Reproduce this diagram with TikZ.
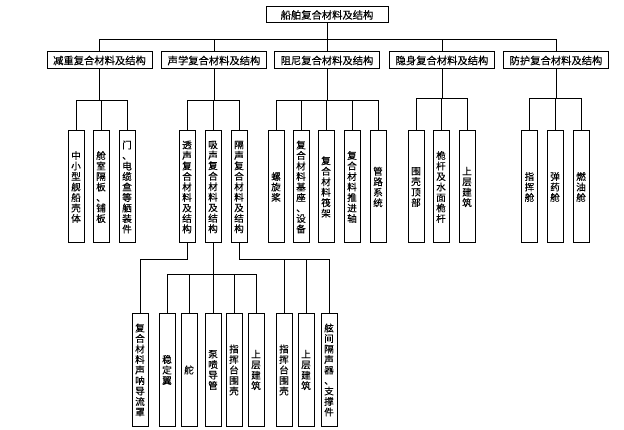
\documentclass[tikz,border=0pt]{standalone}
\usepackage{fontspec}
\newfontfamily\cjk[FakeBold=0.3]{Noto Sans CJK SC}
\begin{document}
\begin{tikzpicture}[x=1pt,y=-1pt,
  hbox/.style={draw, line width=1pt, inner sep=0pt, minimum height=17pt, minimum width=105pt,
    font=\cjk\fontsize{10.3}{12}\selectfont},
  vbox/.style={draw, line width=1pt, inner sep=0pt, minimum width=16pt, minimum height=112pt,
    align=center, font=\cjk\fontsize{9.6}{10.5}\selectfont},
  conn/.style={line width=0.8pt}]
\useasboundingbox[fill=white] (0,0) rectangle (624,430);

% root
\node[hbox, minimum width=122pt, minimum height=16pt] (root) at (327,15) {船舶复合材料及结构};
% level 1
\node[hbox] (a) at (99.5,60.5) {减重复合材料及结构};
\node[hbox] (b) at (214,60.5) {声学复合材料及结构};
\node[hbox] (c) at (327,60.5) {阻尼复合材料及结构};
\node[hbox] (d) at (442,60.5) {隐身复合材料及结构};
\node[hbox] (e) at (556,60.5) {防护复合材料及结构};

% level 2
\node[vbox] (a1) at (76,187) {中\\小\\型\\舰\\船\\壳\\体};
\node[vbox] (a2) at (101,187) {舱\\室\\隔\\板\\、\\铺\\板};
\node[vbox] (a3) at (127,187) {门\\、\\电\\缆\\盒\\等\\舾\\装\\件};

\node[vbox] (b1) at (187,187) {透\\声\\复\\合\\材\\料\\及\\结\\构};
\node[vbox] (b2) at (213,187) {吸\\声\\复\\合\\材\\料\\及\\结\\构};
\node[vbox] (b3) at (239,187) {隔\\声\\复\\合\\材\\料\\及\\结\\构};

\node[vbox] (c1) at (276,187) {螺\\旋\\桨};
\node[vbox] (c2) at (301,187) {复\\合\\材\\料\\基\\座\\、\\设\\备};
\node[vbox] (c3) at (326,187) {复\\合\\材\\料\\筏\\架};
\node[vbox] (c4) at (352,187) {复\\合\\材\\料\\推\\进\\轴};
\node[vbox] (c5) at (378,187) {管\\路\\系\\统};

\node[vbox] (d1) at (416,187) {围\\壳\\顶\\部};
\node[vbox] (d2) at (441,187) {桅\\杆\\及\\水\\面\\桅\\杆};
\node[vbox] (d3) at (467,187) {上\\层\\建\\筑};

\node[vbox] (e1) at (529.5,187) {指\\挥\\舱};
\node[vbox] (e2) at (555,187) {弹\\药\\舱};
\node[vbox] (e3) at (581,187) {燃\\油\\舱};

% level 3
\node[vbox] (s1) at (140,370) {复\\合\\材\\料\\声\\呐\\导\\流\\罩};
\node[vbox] (s2) at (167,370) {稳\\定\\翼};
\node[vbox] (s3) at (189,370) {舵};
\node[vbox] (s4) at (213,370) {泵\\喷\\导\\管};
\node[vbox] (s5) at (234,370) {指\\挥\\台\\围\\壳};
\node[vbox] (s6) at (256,370) {上\\层\\建\\筑};
\node[vbox] (s7) at (284,370) {指\\挥\\台\\围\\壳};
\node[vbox] (s8) at (306,370) {上\\层\\建\\筑};
\node[vbox] (s9) at (329,370) {舷\\间\\隔\\声\\器\\、\\支\\撑\\件};

% connectors: root to level 1
\draw[conn] (root.south) -- ++(0,16) coordinate (r0);
\foreach \n in {a,b,c,d,e} \draw[conn] (r0) -| (\n.north);

% level 1 to level 2
\draw[conn] (a.south) -- ++(0,31) coordinate (ha);
\foreach \n in {a1,a2,a3} \draw[conn] (ha) -| (\n.north);
\draw[conn] (b.south) -- ++(0,31) coordinate (hb);
\foreach \n in {b1,b2,b3} \draw[conn] (hb) -| (\n.north);
\draw[conn] (c.south) -- ++(0,31) coordinate (hc);
\foreach \n in {c1,c2,c3,c4,c5} \draw[conn] (hc) -| (\n.north);
\draw[conn] (d.south) -- ++(0,29) coordinate (hd);
\foreach \n in {d1,d2,d3} \draw[conn] (hd) -| (\n.north);
\draw[conn] (e.south) -- ++(0,29) coordinate (he);
\foreach \n in {e1,e2,e3} \draw[conn] (he) -| (\n.north);

% level 2 to level 3
\draw[conn] (b1.south) -- ++(0,16) -| (s1.north);
\draw[conn] (b2.south) -- ++(0,31) coordinate (hx);
\foreach \n in {s2,s3,s4,s5,s6} \draw[conn] (hx) -| (\n.north);
\draw[conn] (b3.south) -- ++(0,16) coordinate (hy);
\foreach \n in {s7,s8,s9} \draw[conn] (hy) -| (\n.north);
\end{tikzpicture}
\end{document}
